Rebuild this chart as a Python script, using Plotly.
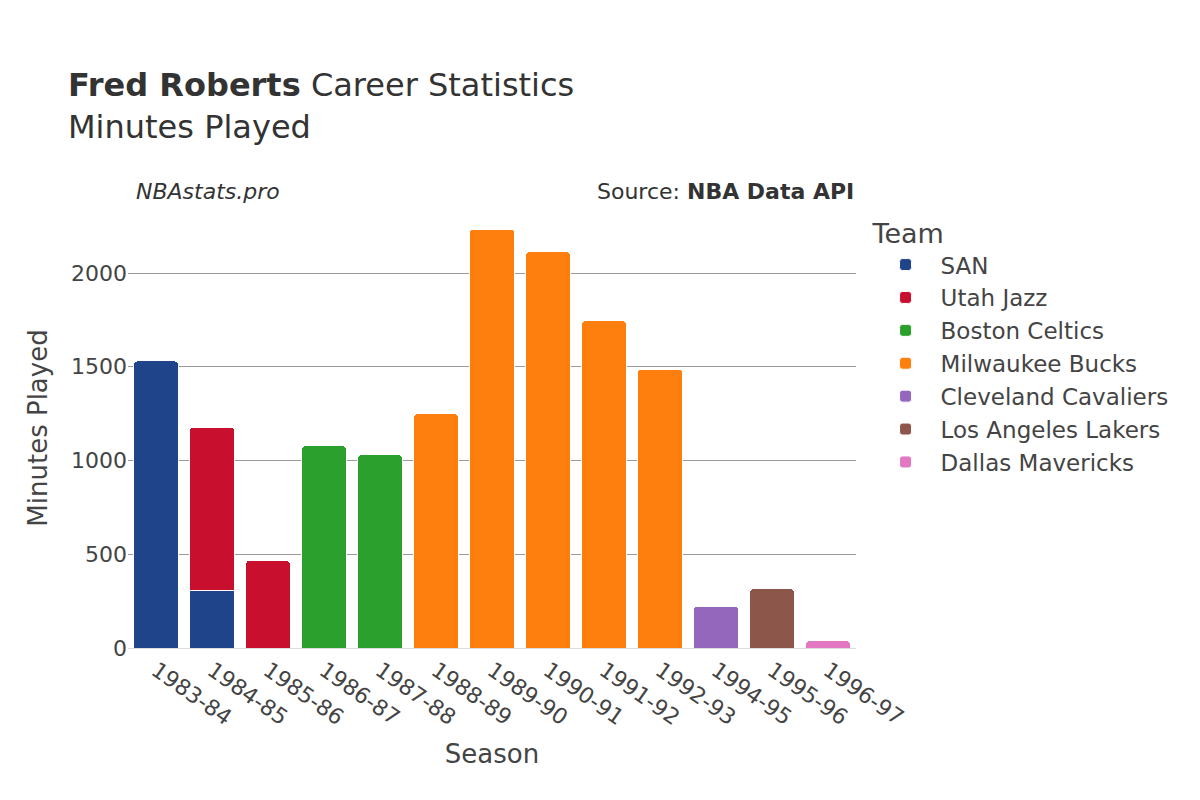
import plotly.graph_objects as go

seasons = ["1983-84","1984-85","1985-86","1986-87","1987-88","1988-89","1989-90","1990-91","1991-92","1992-93","1994-95","1995-96","1996-97"]
teams = ["SAN","Utah Jazz","Boston Celtics","Milwaukee Bucks","Cleveland Cavaliers","Los Angeles Lakers","Dallas Mavericks"]
colors = ["#1f4489","#c8102e","#2ca02c","#ff7f0e","#9467bd","#8c564b","#e377c2"]
team_seasons = {
    "SAN": (["1983-84","1984-85"], [1531, 305]),
    "Utah Jazz": (["1984-85","1985-86"], [873, 467]),
    "Boston Celtics": (["1986-87","1987-88"], [1079, 1032]),
    "Milwaukee Bucks": (["1988-89","1989-90","1990-91","1991-92","1992-93"], [1251, 2235, 2114, 1746, 1488]),
    "Cleveland Cavaliers": (["1994-95"], [224]),
    "Los Angeles Lakers": (["1995-96"], [317]),
    "Dallas Mavericks": (["1996-97"], [40]),
}

fig = go.Figure()
for t, c in zip(teams, colors):
    x, y = team_seasons[t]
    fig.add_trace(go.Bar(x=x, y=y, name=t, marker=dict(color=c, line=dict(color="white", width=1))))

fig.update_layout(
    barmode="stack", barcornerradius=4,
    width=1200, height=800,
    font=dict(family="DejaVu Sans", size=20, color="#444"),
    paper_bgcolor="white", plot_bgcolor="white",
    margin=dict(l=120, r=352, t=200, b=160),
    title=dict(text="<b>Fred Roberts</b> Career Statistics<br>Minutes Played", x=0.05, y=0.89, xanchor="left", font=dict(size=32, color="#333")),
    legend=dict(title=dict(text="Team", font=dict(size=27)), font=dict(size=23), x=1.02, y=1.0, yanchor="top",
                traceorder="normal", itemwidth=60, tracegroupgap=8),
    xaxis=dict(title=dict(text="Season", font=dict(size=26)), categoryorder="array", categoryarray=seasons, tickangle=35, tickfont=dict(size=22), showline=True, linecolor="#ddd"),
    yaxis=dict(title=dict(text="Minutes Played", font=dict(size=26)), gridcolor="#999", tickfont=dict(size=22), range=[0, 2347], zeroline=False),
    bargap=0.2,
    annotations=[
        dict(text="<i>NBAstats.pro</i>", x=0.0, y=1.07, xref="paper", yref="paper", xanchor="left", showarrow=False, font=dict(size=22, color="#333"), xshift=6),
        dict(text="Source: <b>NBA Data API</b>", x=1.0, y=1.07, xref="paper", yref="paper", xanchor="right", showarrow=False, font=dict(size=22, color="#333")),
    ],
)
fig.write_html("out.html")
